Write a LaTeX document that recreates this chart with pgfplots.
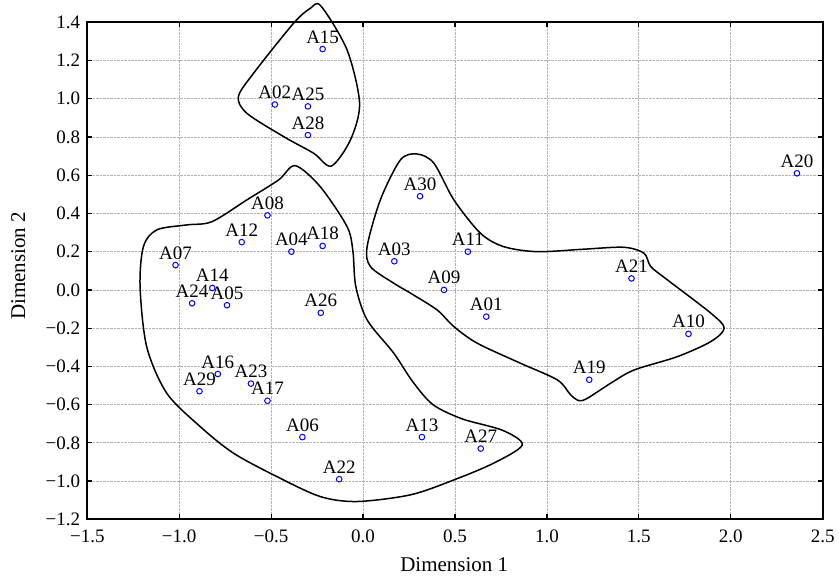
\documentclass[border=0pt]{standalone}
\usepackage{fontspec}
\setmainfont{Liberation Serif}
\usepackage{pgfplots}
\pgfplotsset{compat=1.18}
\begin{document}
\begin{tikzpicture}
\begin{axis}[
  scale only axis, width=735.4pt, height=497pt,
  xmin=-1.5, xmax=2.5, ymin=-1.2, ymax=1.4,
  xtick={-1.5,-1.0,-0.5,0,0.5,1.0,1.5,2.0,2.5},
  xticklabels={−1.5,−1.0,−0.5,0.0,0.5,1.0,1.5,2.0,2.5},
  ytick={-1.2,-1.0,-0.8,-0.6,-0.4,-0.2,0,0.2,0.4,0.6,0.8,1.0,1.2,1.4},
  yticklabels={−1.2,−1.0,−0.8,−0.6,−0.4,−0.2,0.0,0.2,0.4,0.6,0.8,1.0,1.2,1.4},
  tick label style={font=\fontsize{19}{19}\selectfont, inner sep=0pt},
  xticklabel style={anchor=center, yshift=-17.4pt},
  yticklabel style={anchor=east, xshift=-7pt},
  grid=major, grid style={densely dotted, black!30, line width=0.8pt},
  axis line style={line width=1.8pt},
  tick align=inside, tick pos=both, major tick length=5pt,
  tick style={black, line width=1.2pt},
  xlabel={Dimension 1}, ylabel={Dimension 2},
  label style={font=\fontsize{21}{21}\selectfont},
  xlabel style={at={(axis description cs:0.499,-0.092)}, anchor=center},
  ylabel style={at={(axis description cs:-0.0938,0.51)}, anchor=center},
  clip=false,
]
% clusters
\addplot[black, line width=1.5pt, smooth cycle] coordinates {
(-0.229,1.485) (-0.087,1.255) (-0.019,0.976) (-0.069,0.784) (-0.173,0.648)
(-0.269,0.715) (-0.432,0.802) (-0.632,0.924) (-0.678,1.011) (-0.596,1.133)
(-0.378,1.395) (-0.287,1.473)};
\addplot[black, line width=1.5pt, smooth cycle] coordinates {
(-0.369,0.650) (-0.233,0.540) (-0.087,0.331) (-0.055,0.200) (-0.040,0.020)
(0.022,-0.157) (0.167,-0.331) (0.270,-0.480) (0.380,-0.600) (0.540,-0.675)
(0.760,-0.735) (0.866,-0.811) (0.711,-0.906) (0.494,-0.994) (0.258,-1.072)
(-0.033,-1.107) (-0.233,-1.081) (-0.468,-0.977) (-0.705,-0.854) (-0.886,-0.715)
(-1.068,-0.540) (-1.177,-0.297) (-1.213,0.017) (-1.195,0.226) (-1.122,0.314)
(-0.959,0.340) (-0.822,0.357) (-0.632,0.471) (-0.460,0.575)};
\addplot[black, line width=1.5pt, smooth cycle] coordinates {
(0.294,0.711) (0.385,0.663) (0.494,0.471) (0.639,0.296) (0.766,0.226)
(0.948,0.200) (1.201,0.213) (1.419,0.223) (1.528,0.192) (1.565,0.122)
(1.656,0.052) (1.892,-0.122) (1.964,-0.200) (1.892,-0.270) (1.710,-0.349)
(1.474,-0.419) (1.347,-0.488) (1.220,-0.567) (1.174,-0.579) (1.129,-0.549)
(1.057,-0.471) (0.857,-0.384) (0.621,-0.279) (0.494,-0.192) (0.403,-0.105)
(0.258,-0.017) (0.167,0.035) (0.040,0.122) (0.022,0.226) (0.094,0.471)
(0.203,0.680)};
% points
\addplot[only marks, mark=o, mark size=2.8pt, blue, mark options={line width=1pt},
  nodes near coords, point meta=explicit symbolic,
  every node near coord/.append style={anchor=base, inner sep=0pt, yshift=6pt,
    text=black, font=\fontsize{19}{19}\selectfont}]
table[x=x, y=y, meta=label] {
label x y
A15 -0.22 1.26
A02 -0.48 0.97
A25 -0.30 0.96
A28 -0.30 0.81
A08 -0.52 0.39
A12 -0.66 0.25
A04 -0.39 0.20
A18 -0.22 0.23
A07 -1.02 0.13
A03 0.17 0.15
A30 0.31 0.49
A11 0.57 0.20
A21 1.46 0.06
A20 2.36 0.61
A09 0.44 0.00
A01 0.67 -0.14
A10 1.77 -0.23
A19 1.23 -0.47
A13 0.32 -0.77
A27 0.64 -0.83
A14 -0.82 0.01
A24 -0.93 -0.07
A05 -0.74 -0.08
A26 -0.23 -0.12
A16 -0.79 -0.44
A29 -0.89 -0.53
A23 -0.61 -0.49
A17 -0.52 -0.58
A06 -0.33 -0.77
A22 -0.13 -0.99
};
\end{axis}
\pgfresetboundingbox
\path (-87.3pt,-60.7pt) rectangle (751.7pt,519.3pt);
\end{tikzpicture}
\end{document}
